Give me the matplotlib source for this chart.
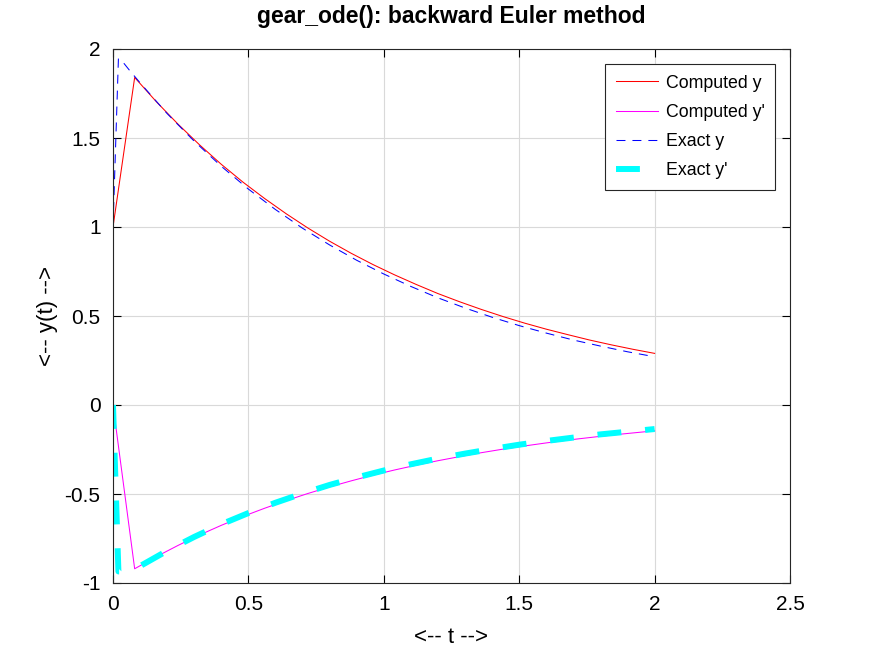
import numpy as np
import matplotlib
matplotlib.use("Agg")
import matplotlib.pyplot as plt

# --- valores ---
# solução calculada (Euler implícito, passo 0.08)
t_calc = [0.00, 0.08, 0.16, 0.24, 0.32, 0.40, 0.48, 0.56, 0.64, 0.72,
          0.80, 0.88, 0.96, 1.04, 1.12, 1.20, 1.28, 1.36, 1.44, 1.52,
          1.60, 1.68, 1.76, 1.84, 1.92, 2.00]
y_calc = [1.000, 1.840, 1.704, 1.578, 1.461, 1.352, 1.252, 1.160, 1.074, 0.994,
          0.920, 0.852, 0.789, 0.731, 0.677, 0.626, 0.580, 0.537, 0.497, 0.460,
          0.426, 0.395, 0.365, 0.338, 0.313, 0.290]
yp_calc = [0.000, -0.920, -0.852, -0.789, -0.730, -0.676, -0.626, -0.580, -0.537, -0.497,
           -0.460, -0.426, -0.394, -0.365, -0.338, -0.313, -0.290, -0.268, -0.248, -0.230,
           -0.213, -0.197, -0.183, -0.169, -0.157, -0.145]

# solução exata
t_exata = [0.00, 0.02, 0.04, 0.06, 0.08, 0.10, 0.20, 0.30, 0.40, 0.50,
           0.60, 0.70, 0.80, 0.90, 1.00, 1.10, 1.20, 1.30, 1.40, 1.50,
           1.60, 1.70, 1.80, 1.90, 2.00]
y_exata = [1.000, 1.945, 1.920, 1.882, 1.846, 1.810, 1.637, 1.482, 1.341, 1.213,
           1.098, 0.993, 0.899, 0.813, 0.736, 0.666, 0.602, 0.545, 0.493, 0.446,
           0.404, 0.365, 0.331, 0.299, 0.271]
yp_exata = [0.000, -0.935, -0.935, -0.928, -0.923, -0.905, -0.819, -0.741, -0.670, -0.607,
            -0.549, -0.497, -0.449, -0.407, -0.368, -0.333, -0.301, -0.273, -0.247, -0.223,
            -0.202, -0.183, -0.165, -0.150, -0.135]

plt.rcParams['font.family'] = ['Liberation Sans', 'DejaVu Sans']
plt.rcParams['axes.unicode_minus'] = False

fig = plt.figure(figsize=(8.73, 6.55), dpi=100)
ax = fig.add_axes([113 / 873, 1 - 583 / 655, (790 - 113) / 873, (583 - 49) / 655])

ax.plot(t_calc, y_calc, color='red', linewidth=0.75, label='Computed y')
ax.plot(t_calc, yp_calc, color='magenta', linewidth=0.75, label="Computed y'")
ax.plot(t_exata, y_exata, color='blue', linewidth=0.75, linestyle=(0, (8.6, 6.7)), label='Exact y')
ax.plot(t_exata, yp_exata, color='cyan', linewidth=4.3, linestyle=(0, (4, 4)), label="Exact y'")

ax.set_xlim(0, 2.5)
ax.set_ylim(-1, 2)
ax.set_xticks(np.arange(0, 2.51, 0.5))
ax.set_yticks(np.arange(-1, 2.01, 0.5))
ax.set_xticklabels(['0', '0.5', '1', '1.5', '2', '2.5'])
ax.set_yticklabels(['-1', '-0.5', '0', '0.5', '1', '1.5', '2'])
ax.grid(True, color='#d9d9d9', linewidth=0.8)
ax.tick_params(direction='in', length=6, labelsize=15, top=True, right=True, pad=9)
for s in ax.spines.values():
    s.set_linewidth(0.8)
    s.set_color('#262626')

ax.set_xlabel('<-- t -->', fontsize=16, labelpad=9)
ax.set_ylabel('<-- y(t) -->', fontsize=16, labelpad=5)
ax.set_title('gear_ode(): backward Euler method', fontsize=16.5, fontweight='bold', pad=19)

leg = ax.legend(loc='upper right', fontsize=12.8, fancybox=False, framealpha=1,
                edgecolor='#262626', handlelength=2.35, handletextpad=0.45,
                borderpad=0.6, labelspacing=0.69, borderaxespad=0,
                bbox_to_anchor=(0.978, 0.972))
leg.get_frame().set_linewidth(0.8)

fig.savefig('out.png', dpi=100)
